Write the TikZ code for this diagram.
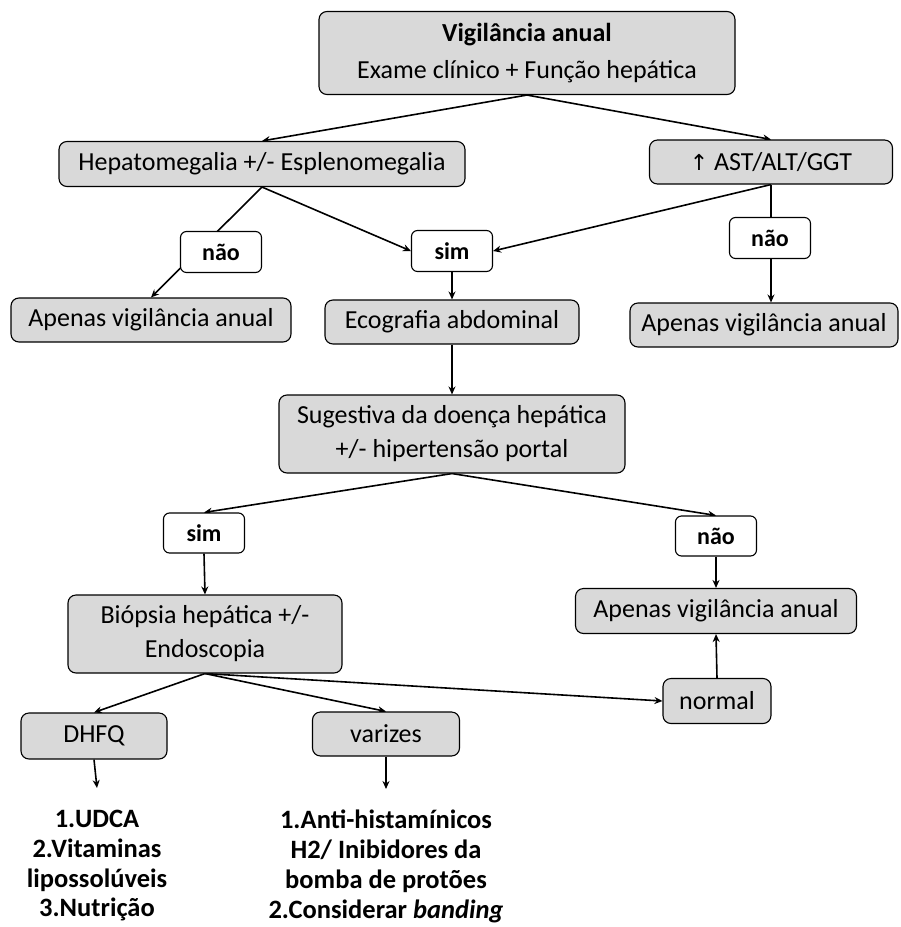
\documentclass[tikz,border=0pt]{standalone}
\usepackage{fontspec}
\setmainfont{Carlito}
\newfontfamily\symfont{DejaVu Sans}
\usetikzlibrary{arrows.meta,backgrounds}
\begin{document}
\begin{tikzpicture}[x=1pt,y=-1pt,
  box/.style={draw=black,line width=1.1pt,rounded corners=8pt,fill=boxgray,
    align=center,inner sep=0pt,font=\fontsize{26}{32}\selectfont},
  tag/.style={draw=black,line width=1.1pt,rounded corners=6pt,fill=white,
    align=center,inner sep=0pt,minimum width=81pt,minimum height=41pt,
    font=\fontsize{24}{28}\selectfont\bfseries},
  res/.style={align=center,inner sep=0pt,font=\fontsize{26.5}{29.8}\selectfont\bfseries},
  conn/.style={line width=1.6pt,draw=black},
  arr/.style={conn,-{Stealth[length=8pt,width=7pt]}}]
\definecolor{boxgray}{RGB}{217,217,217}
\useasboundingbox (0,0) rectangle (901,927);

\node[box,minimum width=416pt,minimum height=83pt] (top) at (527,53)
  {{\bfseries Vigilância anual}\\[5pt]Exame clínico + Função hepática};
\node[box,minimum width=406pt,minimum height=45pt] (hep) at (262,164) {Hepatomegalia +/- Esplenomegalia};
\node[box,minimum width=243pt,minimum height=44pt] (ast) at (771,162) {{\symfont\fontsize{22}{26}\selectfont ↑} AST/ALT/GGT};
\node[tag] (nao1) at (221,252) {não};
\node[tag] (sim1) at (452,251) {sim};
\node[tag] (nao2) at (770,238) {não};
\node[box,minimum width=280pt,minimum height=44pt] (ap1) at (151,320) {Apenas vigilância anual};
\node[box,minimum width=254pt,minimum height=44pt] (eco) at (452,322) {Ecografia abdominal};
\node[box,minimum width=268pt,minimum height=44pt] (ap2) at (764,325) {Apenas vigilância anual};
\node[box,minimum width=346pt,minimum height=78pt] (sug) at (452,434) {Sugestiva da doença hepática\\[2pt]+/- hipertensão portal};
\node[tag,minimum height=40pt] (sim2) at (204,533) {sim};
\node[tag,minimum height=40pt] (nao3) at (716,536) {não};
\node[box,minimum width=274pt,minimum height=78pt] (bio) at (205,634) {Biópsia hepática +/-\\[2pt]Endoscopia};
\node[box,minimum width=281pt,minimum height=45pt] (ap3) at (716,611) {Apenas vigilância anual};
\node[box,minimum width=108pt,minimum height=45pt] (normal) at (717,701) {normal};
\node[box,minimum width=146pt,minimum height=46pt] (dhfq) at (94,736) {DHFQ};
\node[box,minimum width=147pt,minimum height=44pt] (var) at (386,734) {varizes};
\node[res,anchor=north] (t1) at (97,810) {1.UDCA\\2.Vitaminas\\lipossolúveis\\3.Nutrição};
\node[res,anchor=north] (t2) at (386,810) {1.Anti-histamínicos\\H2/ Inibidores da\\bomba de protões\\2.Considerar \textit{banding}};
\coordinate (e1) at (97,788);
\coordinate (e2) at (386,789);

\begin{pgfonlayer}{background}
\draw[arr] (top.south) -- (hep.north);
\draw[arr] (top.south) -- (ast.north);
\draw[arr] (hep.south) -- (ap1.north);
\draw[arr] (hep.south) -- (sim1.west);
\draw[arr] (ast.south) -- (sim1.east);
\draw[arr] (ast.south) -- (ast.south |- ap2.north);
\draw[arr] (sim1.south) -- (eco.north);
\draw[arr] (eco.south) -- (sug.north);
\draw[arr] (sug.south) -- (sim2.north);
\draw[arr] (sug.south) -- (nao3.north);
\draw[arr] (sim2.south) -- (bio.north);
\draw[arr] (nao3.south) -- (ap3.north);
\draw[arr] (normal.north) -- (ap3.south);
\draw[arr] (bio.south) -- (dhfq.north);
\draw[arr] (bio.south) -- (var.north);
\draw[arr] (bio.south) -- (normal.west);
\draw[arr] (dhfq.south) -- (e1);
\draw[arr] (var.south) -- (e2);
\end{pgfonlayer}
\end{tikzpicture}
\end{document}
